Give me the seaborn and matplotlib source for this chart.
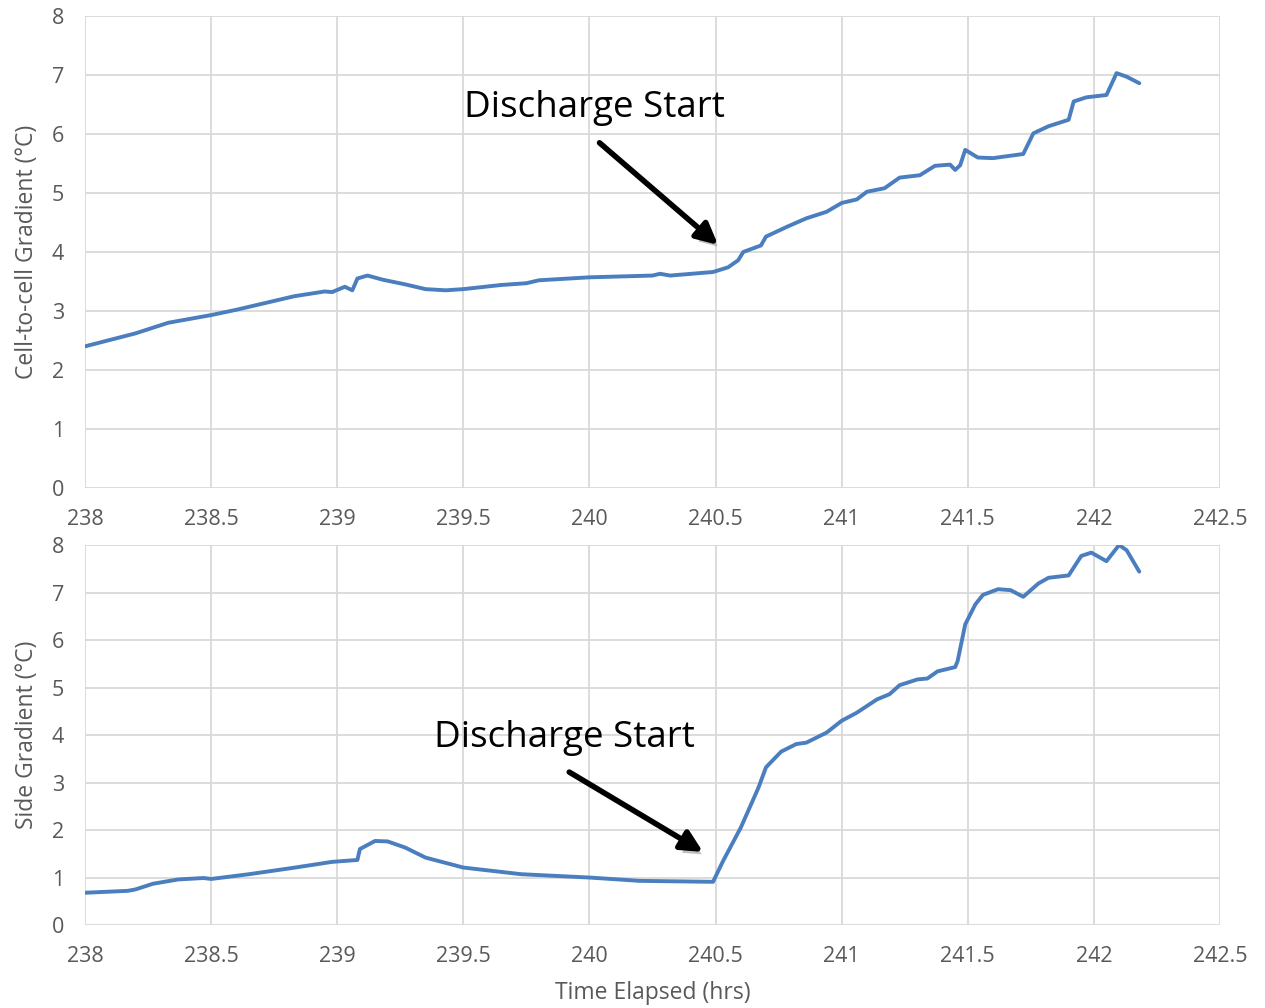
import matplotlib
matplotlib.use("Agg")
import matplotlib.pyplot as plt
import matplotlib.patheffects as pe
import seaborn as sns
import pandas as pd

# Top panel: cell-to-cell gradient
top_time = [238.0, 238.2, 238.33, 238.5, 238.6, 238.73, 238.83, 238.95, 238.98, 239.03,
            239.06, 239.08, 239.12, 239.18, 239.27, 239.35, 239.43, 239.5, 239.65, 239.75,
            239.8, 240.0, 240.25, 240.28, 240.32, 240.49, 240.55, 240.59, 240.61, 240.68,
            240.7, 240.78, 240.86, 240.94, 241.0, 241.06, 241.1, 241.17, 241.23, 241.31,
            241.37, 241.43, 241.45, 241.47, 241.49, 241.54, 241.6, 241.72, 241.76, 241.82,
            241.9, 241.92, 241.97, 242.05, 242.09, 242.13, 242.18]
top_grad = [2.40, 2.62, 2.80, 2.93, 3.02, 3.15, 3.25, 3.33, 3.32, 3.41,
            3.35, 3.55, 3.60, 3.53, 3.45, 3.37, 3.35, 3.37, 3.44, 3.47,
            3.52, 3.57, 3.60, 3.63, 3.60, 3.66, 3.74, 3.86, 4.0, 4.11,
            4.26, 4.42, 4.57, 4.68, 4.83, 4.89, 5.02, 5.08, 5.26, 5.30,
            5.46, 5.48, 5.39, 5.47, 5.73, 5.60, 5.59, 5.66, 6.01, 6.13,
            6.24, 6.55, 6.62, 6.66, 7.03, 6.97, 6.86]

# Bottom panel: side gradient
bot_time = [238.0, 238.17, 238.2, 238.27, 238.37, 238.47, 238.5, 238.65, 238.82, 238.98,
            239.08, 239.09, 239.15, 239.2, 239.27, 239.35, 239.5, 239.73, 240.0, 240.2,
            240.49, 240.53, 240.6, 240.67, 240.7, 240.76, 240.82, 240.86, 240.94, 241.0,
            241.06, 241.14, 241.19, 241.23, 241.3, 241.34, 241.38, 241.45, 241.46, 241.49,
            241.53, 241.56, 241.62, 241.67, 241.72, 241.78, 241.82, 241.9, 241.95, 241.99,
            242.05, 242.1, 242.13, 242.18]
bot_grad = [0.68, 0.72, 0.75, 0.87, 0.96, 0.99, 0.97, 1.07, 1.20, 1.33,
            1.37, 1.60, 1.77, 1.76, 1.63, 1.42, 1.21, 1.07, 1.0, 0.93,
            0.91, 1.35, 2.05, 2.89, 3.32, 3.65, 3.81, 3.84, 4.05, 4.30,
            4.47, 4.75, 4.86, 5.05, 5.17, 5.19, 5.34, 5.43, 5.56, 6.33,
            6.75, 6.95, 7.07, 7.05, 6.91, 7.19, 7.31, 7.36, 7.77, 7.84,
            7.66, 8.0, 7.89, 7.44]

x_ticks = [238, 238.5, 239, 239.5, 240, 240.5, 241, 241.5, 242, 242.5]
x_tick_labels = ["238", "238.5", "239", "239.5", "240", "240.5", "241", "241.5", "242", "242.5"]
y_ticks = [0, 1, 2, 3, 4, 5, 6, 7, 8]

# annotation anchors: (text xy, arrow tail, arrow tip)
top_note = ((240.02, 6.44), (240.04, 5.85), (240.51, 4.12))
bot_note = ((239.90, 3.94), (239.92, 3.22), (240.45, 1.54))

sns.set_style("white")
plt.rcParams["font.family"] = ["Open Sans", "DejaVu Sans"]

line_color = "#4a7ebf"
grid_color = "#d9d9d9"
label_color = "#595959"

fig = plt.figure(figsize=(12.65, 10.08), dpi=100)
ax_top = fig.add_axes([0.0672, 0.5159, 0.8972, 0.4683])
ax_bot = fig.add_axes([0.0672, 0.0823, 0.8972, 0.3770])

panels = [
    (ax_top, top_time, top_grad, "Cell-to-cell Gradient (°C)", top_note),
    (ax_bot, bot_time, bot_grad, "Side Gradient (°C)", bot_note),
]

for ax, t, g, ylab, note in panels:
    df = pd.DataFrame({"time": t, "grad": g})
    sns.lineplot(data=df, x="time", y="grad", ax=ax, color=line_color, lw=2.8)
    ax.set_xlim(238, 242.5)
    ax.set_ylim(0, 8)
    ax.set_xticks(x_ticks)
    ax.set_xticklabels(x_tick_labels)
    ax.set_yticks(y_ticks)
    ax.grid(True, color=grid_color, lw=1.3)
    ax.set_axisbelow(True)
    for s in ax.spines.values():
        s.set_visible(False)
    ax.tick_params(length=0, labelsize=15.5, labelcolor=label_color, pad=15)
    ax.set_ylabel(ylab, fontsize=16.5, color=label_color, labelpad=9)
    ax.set_xlabel("")

    txt, tail, tip = note
    ax.text(txt[0], txt[1], "Discharge Start", fontsize=26.5, color="black",
            ha="center", va="center")
    ann = ax.annotate("", xy=tip, xytext=tail,
                      arrowprops=dict(arrowstyle="-|>", color="black", lw=4,
                                      mutation_scale=32, shrinkA=0, shrinkB=0))
    ann.arrow_patch.set_path_effects([
        pe.SimplePatchShadow(offset=(3, -4), shadow_rgbFace="#808080", alpha=0.5),
        pe.Normal(),
    ])

ax_bot.set_xlabel("Time Elapsed (hrs)", fontsize=16.5, color=label_color, labelpad=10)

fig.savefig("out.png", dpi=100)
